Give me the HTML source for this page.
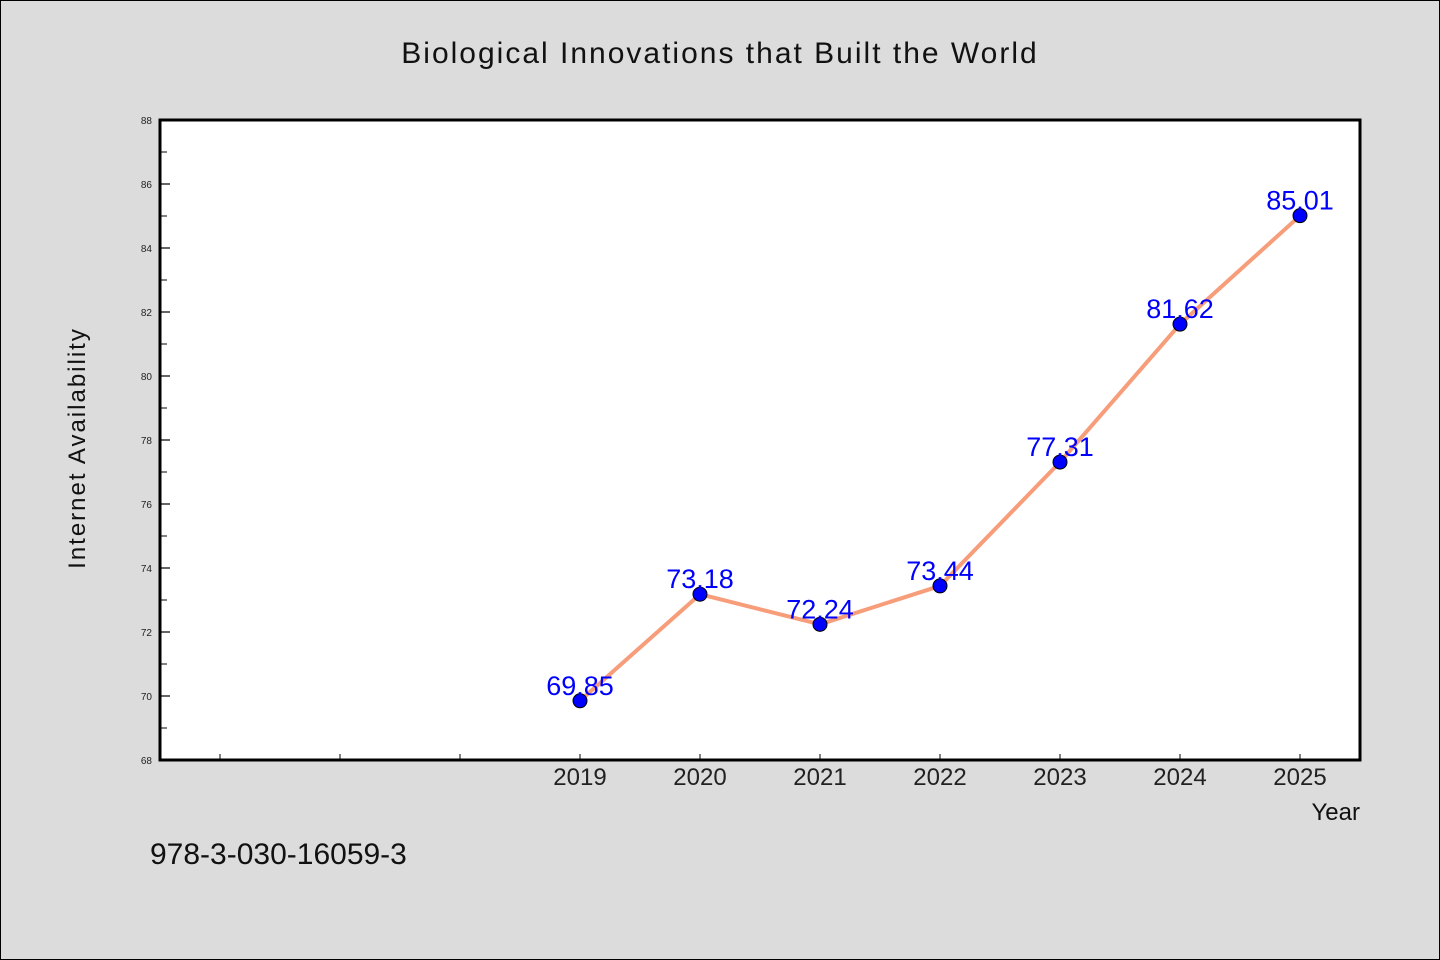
<!DOCTYPE html>
<html><head><meta charset="utf-8"><style>
html,body{margin:0;padding:0;background:#dcdcdc;}
svg{display:block;font-family:"WenQuanYi Zen Hei","Liberation Sans",sans-serif;}
</style></head><body>
<svg id="chart" width="1440" height="960" viewBox="0 0 1440 960">
<rect x="0.5" y="0.5" width="1439" height="959" fill="#dcdcdc" stroke="#000"/>
<text x="720" y="63" text-anchor="middle" font-size="30" fill="#111" letter-spacing="2">Biological Innovations that Built the World</text>
<rect x="160" y="120" width="1200" height="640" fill="#fff"/>
<g id="axes"></g>
<g id="marks"></g>
<rect x="160" y="120" width="1200" height="640" fill="none" stroke="#000" stroke-width="3"/>
<text transform="translate(85,448) rotate(-90)" text-anchor="middle" font-size="24" fill="#111" letter-spacing="2">Internet Availability</text>
<text x="1360" y="820" text-anchor="end" font-size="24" fill="#111">Year</text>
<text x="150" y="864" font-size="30" fill="#111">978-3-030-16059-3</text>
</svg>
<script>
const years=[2019,2020,2021,2022,2023,2024,2025];
const values=[69.85,73.18,72.24,73.44,77.31,81.62,85.01];
const yTicks=[68,70,72,74,76,78,80,82,84,86,88];
const xTickYears=[2016,2017,2018,2019,2020,2021,2022,2023,2024,2025];
const xLabelYears=[2019,2020,2021,2022,2023,2024,2025];
const NS="http://www.w3.org/2000/svg";
const xs=y=>580+(y-2019)*120;
const ys=v=>760-(v-68)*32;
function mk(t,a,p){const e=document.createElementNS(NS,t);for(const k in a)e.setAttribute(k,a[k]);p.appendChild(e);return e;}
const ax=document.getElementById('axes'),mg=document.getElementById('marks');
yTicks.forEach(v=>{
 const l=mk('line',{x1:160,x2:170,y1:ys(v),y2:ys(v),stroke:'#000','stroke-width':1.2},ax);
 
 
 const t=mk('text',{x:152,y:ys(v)+4,'text-anchor':'end','font-size':10,fill:'#222'},ax);
 t.textContent=v;
 
 
});
for(let i=0;i<yTicks.length-1;i++){
 const m=(yTicks[i]+yTicks[i+1])/2;
 const l=mk('line',{x1:160,x2:167,y1:ys(m),y2:ys(m),stroke:'#000','stroke-width':1},ax);
 
 
}
xTickYears.forEach(y=>{
 const l=mk('line',{x1:xs(y),x2:xs(y),y1:760,y2:754,stroke:'#000','stroke-width':1},ax);
 
 
});
xLabelYears.forEach(y=>{
 const t=mk('text',{x:xs(y),y:785,'text-anchor':'middle','font-size':24,fill:'#222'},ax);
 t.textContent=y;
 
 
});
const line=mk('polyline',{points:years.map((y,i)=>xs(y)+','+ys(values[i])).join(' '),fill:'none',stroke:'#f79d7a','stroke-width':4,'stroke-linejoin':'round'},mg);


years.forEach((y,i)=>{
 const c=mk('circle',{cx:xs(y),cy:ys(values[i]),r:7,fill:'#0000ff',stroke:'#000','stroke-width':1},mg);
 
 
 const t=mk('text',{x:xs(y),y:ys(values[i])-6,'text-anchor':'middle','font-size':27,fill:'#0000ff'},mg);
 t.textContent=values[i].toFixed(2);
 
 
});
</script>
</body></html>
